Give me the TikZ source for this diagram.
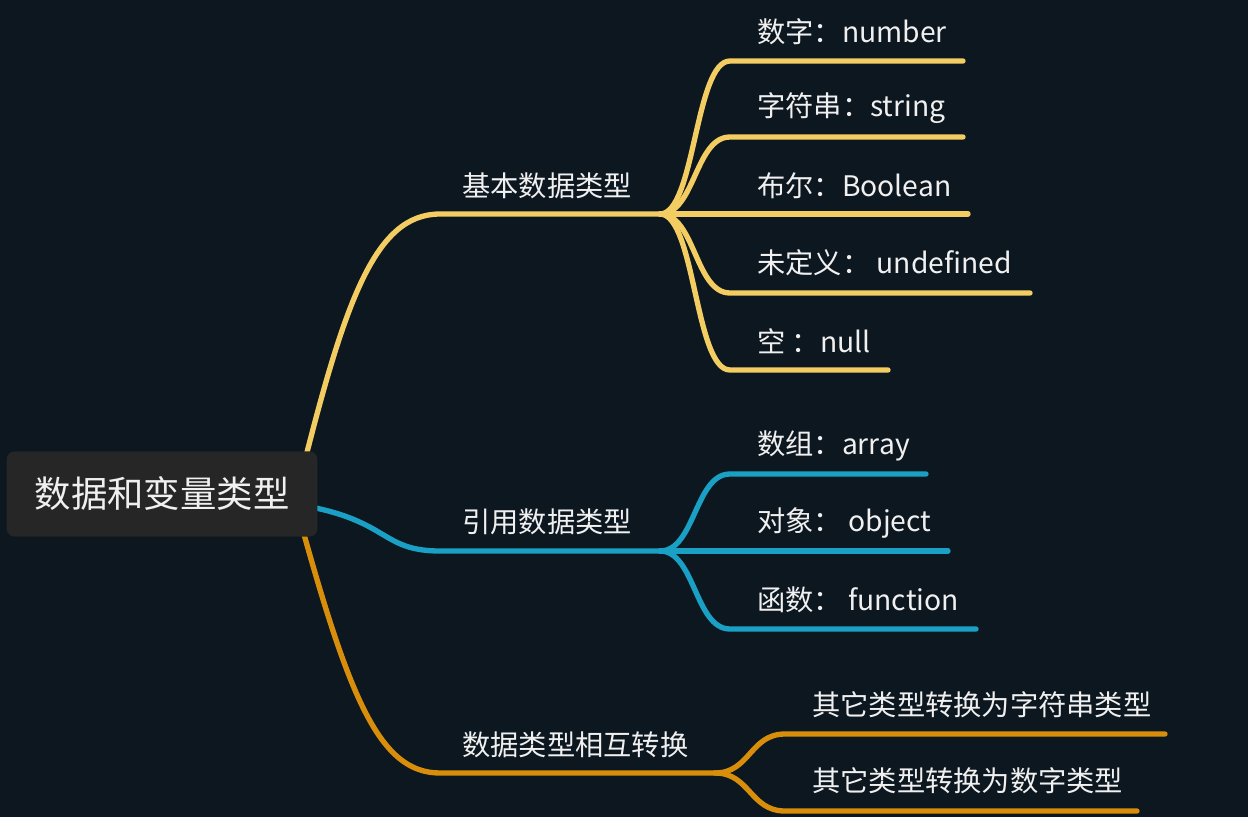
\documentclass[tikz,border=0pt]{standalone}
\usepackage{fontspec}
\setmainfont{Noto Sans CJK SC}
\definecolor{bg}{HTML}{0D1720}
\definecolor{rootfill}{HTML}{262626}
\definecolor{yel}{HTML}{F3CD62}
\definecolor{blu}{HTML}{1AA0C4}
\definecolor{org}{HTML}{D98E0B}
\definecolor{txt}{HTML}{F0F0F0}
\tikzset{
  conn/.style={line width=4pt, line cap=round},
  lbl/.style={anchor=west, inner sep=0pt, text=txt, font=\fontsize{21.2}{24}\selectfont},
  rootbox/.style={fill=rootfill, rounded corners=6pt, minimum width=233pt, minimum height=64pt, text=txt, font=\fontsize{27.3}{32}\selectfont}
}
\begin{document}
\begin{tikzpicture}[x=0.75pt,y=-0.75pt]
\fill[bg] (0,0) rectangle (1248,817);
\useasboundingbox (0,0) rectangle (1248,817);
% coordinates
\coordinate (rs1) at (300,480);
\coordinate (rs2) at (300,505);
\coordinate (rs3) at (300,520);
\coordinate (b1s) at (440,214);
\coordinate (b1j) at (660,214);
\coordinate (b2s) at (440,551);
\coordinate (b2j) at (660,551);
\coordinate (b3s) at (440,773);
\coordinate (b3j) at (715,773);
% yellow children
\coordinate (y1s) at (730,61);  \coordinate (y1e) at (963,61);
\coordinate (y2s) at (730,137); \coordinate (y2e) at (963,137);
\coordinate (y3e) at (968,214);
\coordinate (y4s) at (730,293); \coordinate (y4e) at (1030,293);
\coordinate (y5s) at (730,370); \coordinate (y5e) at (888,370);
% blue children
\coordinate (c1s) at (730,474); \coordinate (c1e) at (926,474);
\coordinate (c2e) at (948,551);
\coordinate (c3s) at (730,629); \coordinate (c3e) at (976,629);
% orange children
\coordinate (o1s) at (785,734); \coordinate (o1e) at (1165,734);
\coordinate (o2s) at (785,811); \coordinate (o2e) at (1137,811);

% main branches
\draw[conn, yel] (rs1) .. controls (345,300) and (375,214) .. (b1s) -- (b1j);
\draw[conn, blu] (rs2) .. controls (390,520) and (380,551) .. (b2s) -- (b2j);
\draw[conn, org] (rs3) .. controls (350,700) and (380,773) .. (b3s) -- (b3j);

% yellow subbranches
\draw[conn, yel] (b1j) .. controls +(35,0) and +(-35,0) .. (y1s) -- (y1e);
\draw[conn, yel] (b1j) .. controls +(35,0) and +(-35,0) .. (y2s) -- (y2e);
\draw[conn, yel] (b1j) -- (y3e);
\draw[conn, yel] (b1j) .. controls +(35,0) and +(-35,0) .. (y4s) -- (y4e);
\draw[conn, yel] (b1j) .. controls +(35,0) and +(-35,0) .. (y5s) -- (y5e);
% blue subbranches
\draw[conn, blu] (b2j) .. controls +(35,0) and +(-35,0) .. (c1s) -- (c1e);
\draw[conn, blu] (b2j) -- (c2e);
\draw[conn, blu] (b2j) .. controls +(35,0) and +(-35,0) .. (c3s) -- (c3e);
% orange subbranches
\draw[conn, org] (b3j) .. controls +(35,0) and +(-35,0) .. (o1s) -- (o1e);
\draw[conn, org] (b3j) .. controls +(35,0) and +(-35,0) .. (o2s) -- (o2e);

% root
\node[rootbox] (root) at (162,494) {数据和变量类型};

% branch labels
\node[lbl] (l1) at (462,186) {基本数据类型};
\node[lbl] (l2) at (462,522) {引用数据类型};
\node[lbl] (l3) at (462,745) {数据类型相互转换};

% leaf labels
\node[lbl] (a1) at (757,32) {数字：number};
\node[lbl] (a2) at (757,108) {字符串：string};
\node[lbl] (a3) at (757,186) {布尔：Boolean};
\node[lbl] (a4) at (757,263) {未定义： undefined};
\node[lbl] (a5) at (757,341) {空 ：null};
\node[lbl] (b1) at (757,446) {数组：array};
\node[lbl] (b2) at (757,523) {对象： object};
\node[lbl] (b3) at (757,600) {函数： function};
\node[lbl] (d1) at (812,705) {其它类型转换为字符串类型};
\node[lbl] (d2) at (812,781) {其它类型转换为数字类型};
\end{tikzpicture}
\end{document}
